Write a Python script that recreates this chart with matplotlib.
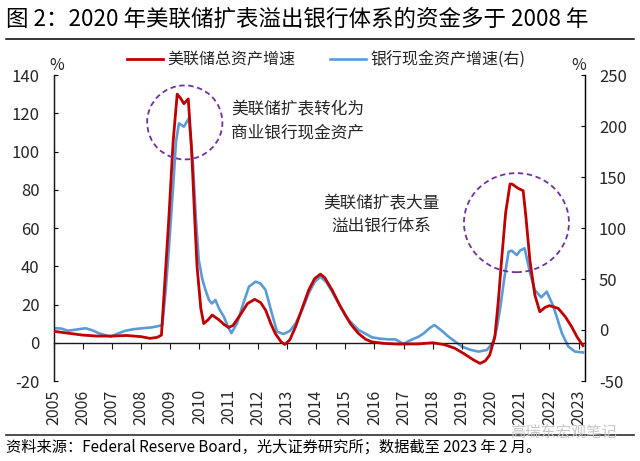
import matplotlib
matplotlib.use('Agg')
import matplotlib.pyplot as plt
from matplotlib.patches import Ellipse
from matplotlib.lines import Line2D
import numpy as np

plt.rcParams['font.family'] = ['Noto Sans CJK SC', 'DejaVu Sans']
plt.rcParams['axes.unicode_minus'] = False

# 美联储总资产增速 (%, left axis)
fed_t = [2005.0, 2005.5, 2006.0, 2006.5, 2007.0, 2007.5, 2008.0, 2008.3, 2008.55, 2008.7,
         2008.83, 2008.95, 2009.1, 2009.24, 2009.35, 2009.47, 2009.62, 2009.73, 2009.85, 2009.92,
         2010.05, 2010.15, 2010.3, 2010.44, 2010.67, 2010.85, 2011.0, 2011.15, 2011.4, 2011.65,
         2011.9, 2012.1, 2012.27, 2012.45, 2012.6, 2012.8, 2012.93, 2013.1, 2013.3, 2013.5,
         2013.75, 2013.95, 2014.15, 2014.3, 2014.55, 2014.8, 2015.0, 2015.2, 2015.45, 2015.7,
         2015.9, 2016.3, 2016.8, 2017.5, 2018.0, 2018.4, 2018.76, 2019.1, 2019.4, 2019.62,
         2019.8, 2019.95, 2020.13, 2020.25, 2020.36, 2020.5, 2020.65, 2020.72, 2020.93, 2021.1,
         2021.2, 2021.33, 2021.5, 2021.67, 2021.85, 2022.0, 2022.3, 2022.55, 2022.76, 2022.95,
         2023.15]
fed_growth = [6.0, 5.0, 4.0, 3.5, 3.5, 3.8, 3.2, 2.3, 2.8, 4.0,
              35, 64, 105, 130, 128, 125, 127.5, 102, 62, 40,
              18, 10, 12, 14.5, 12, 9.5, 8.0, 9.0, 14.5, 20.5,
              22.7, 21.0, 17.1, 10, 4.9, 0.5, -0.9, 1.5, 8.4, 17,
              27.6, 33.5, 35.9, 34, 27.6, 20, 14.5, 9.5, 4.9, 1.8,
              0.5, -0.3, -0.7, -0.6, 0.0, -1.0, -2.9, -6.0, -9.0, -10.8,
              -9.5, -6.5, 3.1, 22, 43.2, 68, 83, 83, 80.7, 79.5,
              65, 43.2, 25, 16.2, 18.5, 19.4, 18.0, 13.5, 8.4, 3.0,
              -1.5]

# 银行现金资产增速 (%, right axis)
cash_t = [2005.0, 2005.25, 2005.5, 2005.8, 2006.1, 2006.35, 2006.56, 2006.96, 2007.2, 2007.47,
          2007.75, 2008.04, 2008.35, 2008.61, 2008.73, 2008.85, 2008.96, 2009.1, 2009.2, 2009.3,
          2009.47, 2009.64, 2009.78, 2009.88, 2009.98, 2010.1, 2010.21, 2010.33, 2010.43, 2010.55,
          2010.67, 2010.84, 2011.0, 2011.1, 2011.3, 2011.47, 2011.7, 2011.93, 2012.1, 2012.27,
          2012.45, 2012.66, 2012.89, 2013.1, 2013.3, 2013.5, 2013.75, 2013.95, 2014.15, 2014.35,
          2014.55, 2014.85, 2015.12, 2015.46, 2015.92, 2016.2, 2016.49, 2016.72, 2017.0, 2017.2,
          2017.52, 2017.69, 2017.9, 2018.06, 2018.3, 2018.54, 2019.0, 2019.3, 2019.57, 2019.86,
          2020.08, 2020.2, 2020.32, 2020.45, 2020.6, 2020.71, 2020.88, 2021.0, 2021.15, 2021.34,
          2021.5, 2021.72, 2021.91, 2022.14, 2022.43, 2022.65, 2022.88, 2023.15]
cash_growth = [1.7, 1.5, -0.7, 0.5, 1.7, -0.5, -3.3, -6.5, -3.5, -0.7,
               0.8, 1.7, 2.5, 3.9, 5.0, 40, 81.7, 140, 185, 202.6,
               199.3, 207.5, 163.4, 110, 68.6, 50, 39.2, 29.4, 26, 29.4,
               21.2, 13.0, 2.0, -3.0, 7.0, 22.9, 42.5, 47.4, 45.5, 39.2,
               20, -1.6, -3.9, -1.0, 6.5, 18, 36.0, 47, 52.3, 47,
               37.6, 22, 9.8, 0.0, -7.2, -8.5, -9.2, -9.2, -13.7, -10.5,
               -6.5, -3.3, 2.0, 4.9, -0.5, -6.5, -16.3, -19.5, -21.2, -19.6,
               -11.4, 2.0, 22.9, 50, 76.8, 77.7, 73.5, 78, 80.1, 55.6,
               39.2, 32.0, 37.6, 22.9, -3.3, -16.3, -21.2, -22.0]

years = list(range(2005, 2024))
left_ticks = list(range(-20, 141, 20))
right_ticks = list(range(-50, 251, 50))

red = '#C00000'
blue = '#5B9BD5'
purple = '#7030A0'
txt = '#262626'

fig = plt.figure(figsize=(6.4, 4.61), dpi=100)
ax = fig.add_axes([53.5 / 640, 1 - 381 / 461, (585 - 53.5) / 640, (381 - 75) / 461])
ax2 = ax.twinx()

l1, = ax.plot(fed_t, fed_growth, color=red, lw=2.0, label='美联储总资产增速', zorder=3)
l2, = ax2.plot(cash_t, cash_growth, color=blue, lw=1.9, label='银行现金资产增速(右)')
ax.set_zorder(ax2.get_zorder() + 1)
ax.patch.set_visible(False)

ax.set_xlim(2005, 2023.22)
ax.set_ylim(-20, 140)
ax2.set_ylim(-50, 250)
ax.set_yticks(left_ticks)
ax2.set_yticks(right_ticks)

# x axis line sits at y = 0, year labels at the bottom
ax.spines['bottom'].set_position(('data', 0))
ax.spines['top'].set_visible(False)
ax2.spines['top'].set_visible(False)
ax2.spines['bottom'].set_visible(False)
for sp in ['left', 'bottom']:
    ax.spines[sp].set_color('#1a1a1a')
    ax.spines[sp].set_linewidth(1.0)
ax2.spines['right'].set_color('#1a1a1a')
ax2.spines['right'].set_linewidth(1.0)
ax.set_xticks(years)
ax.tick_params(axis='x', direction='out', length=4, labelbottom=False, color='#1a1a1a')
ax.tick_params(axis='y', direction='in', length=3, pad=10, labelsize=12, labelcolor=txt)
ax2.tick_params(axis='y', direction='in', length=3, pad=10, labelsize=12, labelcolor=txt)

sec = ax.secondary_xaxis('bottom')
sec.set_xticks(years)
sec.set_xticklabels([str(y) for y in years], rotation=90, fontsize=11.5, color=txt)
sec.tick_params(length=0, pad=6)
sec.spines['bottom'].set_visible(False)

# circles and notes
ax.add_patch(Ellipse((2009.5, 115.2), 2.58, 38.7, fill=False, ec=purple, lw=1.3,
                     ls=(0, (3, 2)), zorder=4))
ax.add_patch(Ellipse((2020.87, 62.8), 3.6, 51.8, fill=False, ec=purple, lw=1.3,
                     ls=(0, (3, 2)), zorder=4))
ax.text(2011.1, 115.7, '美联储扩表转化为\n商业银行现金资产', ha='left', va='center',
        fontsize=12, color=txt, linespacing=1.45)
ax.text(2016.25, 66.8, '美联储扩表大量\n溢出银行体系', ha='center', va='center',
        fontsize=12, color=txt, linespacing=1.45)

fig.text(57 / 640, 1 - 65 / 461, '%', fontsize=11.5, color=txt, ha='center', va='center')
fig.text(579 / 640, 1 - 65 / 461, '%', fontsize=11.5, color=txt, ha='center', va='center')

fig.legend(handles=[l1, l2], loc='center', bbox_to_anchor=(0.51, 1 - 60 / 461), ncol=2,
           frameon=False, fontsize=11.5, handlelength=2.2, handletextpad=0.3,
           columnspacing=2.2, labelcolor=txt)

# title, rules, source
fig.text(6 / 640, 1 - 19 / 461, '图 2：2020 年美联储扩表溢出银行体系的资金多于 2008 年',
         fontsize=16.2, color='black', ha='left', va='center')
fig.add_artist(Line2D([6 / 640, 634 / 640], [1 - 39.5 / 461] * 2, color='black', lw=1.1))
fig.add_artist(Line2D([6 / 640, 634 / 640], [1 - 434.5 / 461] * 2, color='#404040', lw=1.3))
fig.text(510 / 640, 1 - 432 / 461, '高瑞东宏观笔记', fontsize=11, color='#c8c8c8',
         ha='left', va='center')
fig.text(6 / 640, 1 - 447.5 / 461,
         '资料来源：Federal Reserve Board，光大证券研究所；数据截至 2023 年 2 月。',
         fontsize=11, color='black', ha='left', va='center')

fig.savefig('out.png', dpi=100)
